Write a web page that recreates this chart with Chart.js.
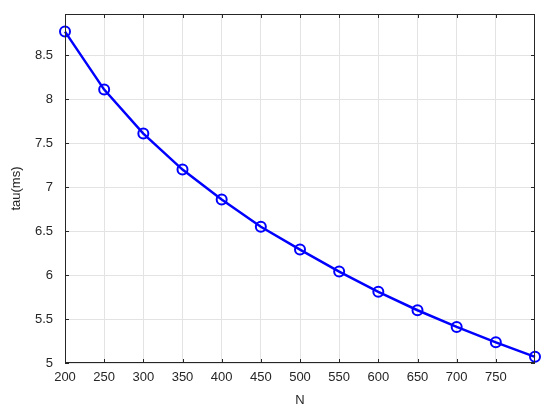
<!DOCTYPE html>
<html>
<head>
<meta charset="utf-8">
<script src="https://cdn.jsdelivr.net/npm/chart.js@4.4.1/dist/chart.umd.min.js"></script>
<style>
  html, body { margin: 0; padding: 0; background: #fff; }
  #wrap { width: 550px; height: 414px; }
</style>
</head>
<body>
<div id="wrap"><canvas id="myChart" width="550" height="414"></canvas></div>
<script>
// data
let nValues = [200, 250, 300, 350, 400, 450, 500, 550, 600, 650, 700, 750, 800];
let tauValues = [8.77, 8.11, 7.61, 7.20, 6.86, 6.55, 6.29, 6.04, 5.81, 5.60, 5.41, 5.235, 5.07];
let xTicks = [200, 250, 300, 350, 400, 450, 500, 550, 600, 650, 700, 750];
let yTicks = [5, 5.5, 6, 6.5, 7, 7.5, 8, 8.5];

let axisColor = '#262626';
let fontStuff = { family: '"Liberation Sans", Arial, sans-serif', size: 13 };

// matlab style box with inward tick marks
let boxPlugin = {
    id: 'box',
    afterDraw(chart) {
        let c = chart.ctx;
        let a = chart.chartArea;
        let xs = chart.scales.x;
        let ys = chart.scales.y;
        c.save();
        c.strokeStyle = axisColor;
        c.lineWidth = 1;
        c.strokeRect(a.left + 0.5, a.top + 0.5, a.right - a.left - 1, a.bottom - a.top - 1);
        c.beginPath();
        xTicks.forEach(v => {
            let px = Math.round(xs.getPixelForValue(v)) + 0.5;
            c.moveTo(px, a.bottom); c.lineTo(px, a.bottom - 4);
            c.moveTo(px, a.top); c.lineTo(px, a.top + 4);
        });
        yTicks.forEach(v => {
            let py = Math.round(ys.getPixelForValue(v)) + 0.5;
            c.moveTo(a.left, py); c.lineTo(a.left + 4, py);
            c.moveTo(a.right, py); c.lineTo(a.right - 4, py);
        });
        c.stroke();
        c.restore();
    }
};

var ctx = document.getElementById('myChart').getContext('2d');
var chart = new Chart(ctx, {
    type: 'line',
    data: {
        datasets: [{
            label: 'tau',
            data: nValues.map((n, i) => ({ x: n, y: tauValues[i] })),
            borderColor: '#0000ff',
            borderWidth: 2.5,
            pointRadius: 5,
            pointBorderWidth: 2,
            pointBorderColor: '#0000ff',
            pointBackgroundColor: 'rgba(0,0,0,0)',
            tension: 0,
            clip: false
        }]
    },
    options: {
        responsive: false,
        animation: false,
        layout: { padding: { top: 14, right: 15, left: 0, bottom: 0 } },
        plugins: { legend: { display: false }, tooltip: { enabled: false } },
        scales: {
            x: {
                type: 'linear',
                min: 200,
                max: 800,
                afterBuildTicks: scale => { scale.ticks = xTicks.map(v => ({ value: v })); },
                afterFit: scale => { scale.height = 51; scale.paddingLeft = 0; scale.paddingRight = 0; },
                grid: { color: '#e3e3e3', drawTicks: false },
                border: { display: false },
                ticks: { color: axisColor, font: fontStuff, padding: 7, maxRotation: 0, callback: v => String(v) },
                title: { display: true, text: 'N', color: axisColor, font: fontStuff, padding: { top: 0, bottom: 6 } }
            },
            y: {
                min: 5,
                max: 8.97,
                afterBuildTicks: scale => { scale.ticks = yTicks.map(v => ({ value: v })); },
                afterFit: scale => { scale.width = 65; scale.paddingTop = 0; scale.paddingBottom = 0; },
                grid: { color: '#e3e3e3', drawTicks: false },
                border: { display: false },
                ticks: { color: axisColor, font: fontStuff, padding: 12, callback: v => String(v) },
                title: { display: true, text: 'tau(ms)', color: axisColor, font: fontStuff, padding: { top: 9, bottom: 0 } }
            }
        }
    },
    plugins: [boxPlugin]
});
</script>
</body>
</html>
